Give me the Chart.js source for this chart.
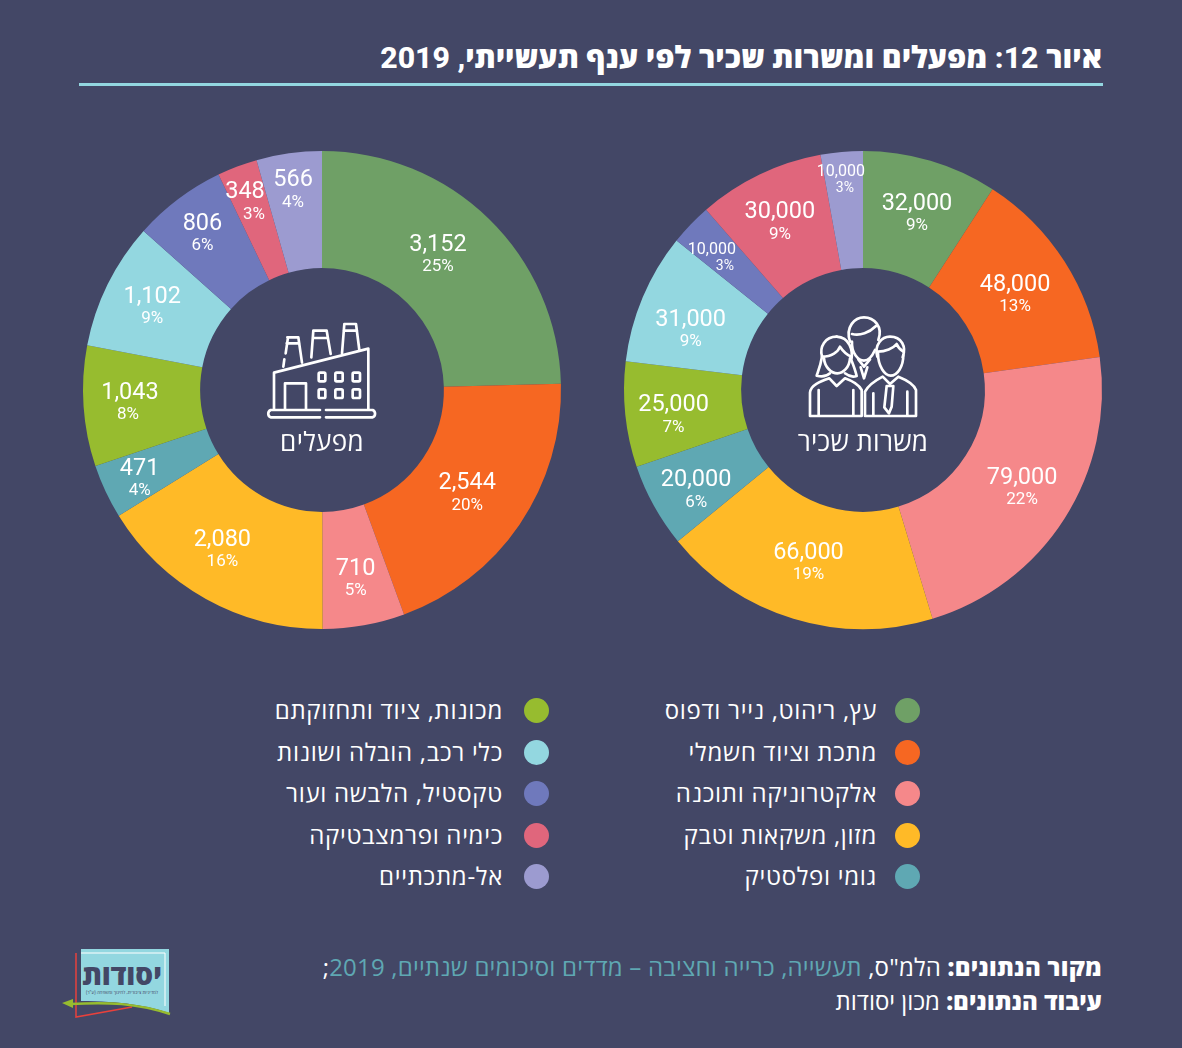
<!DOCTYPE html>
<html lang="he"><head><meta charset="utf-8">
<script src="https://cdn.jsdelivr.net/npm/chart.js@4/dist/chart.umd.min.js"></script>
<style>
html,body{margin:0;padding:0;background:#434766;width:1182px;height:1048px;overflow:hidden;font-family:Roboto,"Open Sans",sans-serif;color:#fff}
.abs{position:absolute}
#title{right:80px;top:37px;font:800 30.2px/42px Roboto,"Open Sans",sans-serif;white-space:nowrap;direction:rtl}
#rule{left:79px;top:83px;width:1024px;height:3px;background:#93D7E0}
canvas{position:absolute}
.center{font:400 26px/30px "Open Sans",sans-serif;width:200px;text-align:center;direction:rtl;letter-spacing:.3px}
.leg{display:flex;flex-direction:row;align-items:center;height:26px;white-space:nowrap;direction:rtl;font:400 24px/26px "Open Sans",sans-serif;letter-spacing:.7px}
.dot{position:absolute;width:25px;height:25px;border-radius:50%}
.foot{right:80px;font:400 24px/30px "Open Sans",sans-serif;white-space:nowrap;direction:rtl;letter-spacing:.2px}
.foot b{font-weight:800}.foot span{color:#5FA8B3}
</style></head><body>
<div class="abs" id="title">איור 12: מפעלים ומשרות שכיר לפי ענף תעשייתי, 2019</div>
<div class="abs" id="rule"></div>
<canvas id="c1" width="500" height="500" style="left:72px;top:140px;width:500px;height:500px"></canvas>
<canvas id="c2" width="500" height="500" style="left:613px;top:140px;width:500px;height:500px"></canvas>

<svg class="abs" style="left:250px;top:310px" width="150" height="150" viewBox="0 0 450 450" fill="none" stroke="#fff" stroke-width="8" stroke-linecap="round" stroke-linejoin="round">
<path d="M210 300H62a12 12 0 0 0 0 22H210M228 322H368a12 12 0 0 0 0-22H228"/>
<path d="M72 298V188L355 116V298"/>
<path d="M105 298V220H168V298"/>
<path d="M100 170L103 148M112 82H145L156 158M114 82L107 130M110 100H148"/>
<path d="M190 62H230L242 132M190 62L184 142M188 84H233"/>
<path d="M283 42H318L328 120M283 42L276 130M281 62H321"/>
<rect x="206" y="188" width="20" height="26" rx="4"/><rect x="256" y="188" width="22" height="26" rx="4"/><rect x="308" y="188" width="22" height="26" rx="4"/>
<rect x="206" y="238" width="20" height="26" rx="4"/><rect x="256" y="238" width="22" height="26" rx="4"/><rect x="308" y="238" width="22" height="26" rx="4"/>
</svg>
<svg class="abs" style="left:790px;top:310px" width="150" height="150" viewBox="0 0 450 450" fill="none" stroke="#fff" stroke-width="8" stroke-linecap="round" stroke-linejoin="round">
<path d="M180 95C165 50 195 22 222 22C252 22 280 50 265 90"/>
<path d="M186 95C184 130 205 152 222 152C232 152 245 142 255 120"/>
<path d="M186 72C210 78 238 68 258 48"/>
<path d="M140 80C105 80 88 110 96 140C92 165 86 180 80 197C98 202 112 197 120 190"/>
<path d="M140 80C178 82 190 120 184 150C192 170 197 185 200 198C188 202 175 198 165 190"/>
<path d="M96 140C125 140 145 125 150 110C160 125 172 135 184 140"/>
<path d="M102 145C104 172 125 190 142 190C160 190 178 172 180 145"/>
<path d="M262 140C252 105 275 80 300 80C335 80 350 110 338 142"/>
<path d="M264 125C285 125 310 115 320 102C325 115 332 120 340 125"/>
<path d="M264 130C264 170 285 197 302 197C322 197 340 170 340 135"/>
<path d="M215 318H60V248C62 225 90 215 118 205L140 228L165 205C185 212 205 222 215 240V318"/>
<path d="M86 240V316M190 240V316"/>
<path d="M225 318V245C235 225 255 212 278 200L300 222L325 200C350 210 372 222 378 240V318H225"/>
<path d="M250 250V316M352 245V316M290 228H310L305 290L297 310L283 292Z"/>
<path d="M205 148L222 170L240 148M212 172L222 205L232 172"/>
</svg>
<div class="abs center" style="left:222px;top:426px">מפעלים</div>
<div class="abs center" style="left:763px;top:426px">משרות שכיר</div>
<div id="legend"></div>

<div class="abs foot" style="top:952px"><b>מקור הנתונים:</b> הלמ"ס, <span>תעשייה, כרייה וחציבה – מדדים וסיכומים שנתיים, 2019</span>;</div>
<div class="abs foot" style="top:986px;letter-spacing:0"><b>עיבוד הנתונים:</b> מכון יסודות</div>

<svg class="abs" style="left:55px;top:940px" width="125" height="85" viewBox="55 940 125 85" fill="none">
<path d="M76 953V1017L132 1007" stroke="#E8413C" stroke-width="1.5"/>
<path d="M81 949H169V1013C150 1006 120 1001 81 1001Z" fill="#93D7E0"/>
<path d="M81 953H165V1006" stroke="#fff" stroke-width="1"/>
<text x="122" y="985" fill="#434766" text-anchor="middle" style="font:800 28px 'Open Sans',sans-serif" direction="rtl">יסודות</text>
<text x="122" y="994" fill="#434766" text-anchor="middle" style="font:400 4.6px 'Open Sans',sans-serif" direction="rtl">למדיניות ציבורית, לחינוך ומשפחה (ע"ר)</text>
<path d="M70 1004C110 1002 135 1003 170 1014" stroke="#97BC2F" stroke-width="2.5"/>
<path d="M62 1003L73 999V1008Z" fill="#97BC2F"/>
</svg>

<script>
const categories = ["עץ, ריהוט, נייר ודפוס","מתכת וציוד חשמלי","אלקטרוניקה ותוכנה","מזון, משקאות וטבק","גומי ופלסטיק","מכונות, ציוד ותחזוקתם","כלי רכב, הובלה ושונות","טקסטיל, הלבשה ועור","כימיה ופרמצבטיקה","אל-מתכתיים"];
const plants = [3152,2544,710,2080,471,1043,1102,806,348,566];
const plantShares = ["25%","20%","5%","16%","4%","8%","9%","6%","3%","4%"];
const jobs = [32000,48000,79000,66000,20000,25000,31000,10000,30000,10000];
const jobShares = ["9%","13%","22%","19%","6%","7%","9%","3%","9%","3%"];
const palette = ["#6FA066","#F66722","#F5888A","#FFBA27","#5FA8B3","#97BC2F","#93D7E0","#6F79BC","#E0667C","#9C9BD0"];

// hand placement of labels relative to each slice's centroid
const plantNudge = [[-10,-7],[-4,1],[2,10],[-12,1],[-19,11],[-12,0],[-8,-4],[-11,-13],[-13,-20],[-4,-22]];
const plantPctShift = [0,0,0,0,0,-2,0,0,9,0];
const jobNudge = [[3,-4],[0,1],[7,0],[-2,-1],[-9,12],[-10,6],[-6,9],[-21,-8],[-5,-6],[-6,-31]];
const jobPctShift = [0,0,0,0,0,0,0,13,0,4];

const fmt = v => v.toLocaleString("en-US");
const labelPlugin = (shares,nudge,shift,smallAt) => ({
  id:"sliceLabels",
  afterDatasetsDraw(chart){
    const ctx = chart.ctx, arcs = chart.getDatasetMeta(0).data, vals = chart.data.datasets[0].data;
    ctx.save(); ctx.fillStyle="#fff"; ctx.textAlign="center"; ctx.textBaseline="middle";
    arcs.forEach((a,i)=>{
      const p = a.tooltipPosition();
      const x = p.x+nudge[i][0], y = p.y+nudge[i][1];
      const small = smallAt(vals[i]);
      ctx.font = `400 ${small?16:23.5}px Roboto`;
      ctx.fillText(fmt(vals[i]), x, y-(small?7:9));
      ctx.font = `400 ${small?14:17}px Roboto`;
      ctx.fillText(shares[i], x+shift[i], y+(small?9:13));
    });
    ctx.restore();
  }
});
function donut(id,data,shares,nudge,shift,smallAt){
  new Chart(document.getElementById(id),{
    type:"doughnut",
    data:{labels:categories,datasets:[{data,backgroundColor:palette,borderWidth:0}]},
    options:{responsive:false,animation:false,radius:239,cutout:"51%",layout:{padding:0},plugins:{legend:{display:false},tooltip:{enabled:false}}},
    plugins:[labelPlugin(shares,nudge,shift,smallAt)]
  });
}
donut("c1",plants,plantShares,plantNudge,plantPctShift,()=>false);
donut("c2",jobs,jobShares,jobNudge,jobPctShift,v=>v===10000);

const rowY = [710,752,793,835,876];
const lg = document.getElementById("legend");
categories.forEach((c,i)=>{
  const col = i<5?0:1, y = rowY[i%5];
  const dotX = col===0?907:536, textRight = col===0?877:503;
  const d=document.createElement("div"); d.className="dot";
  d.style.cssText=`left:${dotX-12.5}px;top:${y-12.5}px;background:${palette[i]}`; lg.appendChild(d);
  const t=document.createElement("div"); t.className="abs leg"; t.textContent=c;
  t.style.cssText=`right:${1182-textRight}px;top:${y-13}px`; lg.appendChild(t);
});
</script>
</body></html>
